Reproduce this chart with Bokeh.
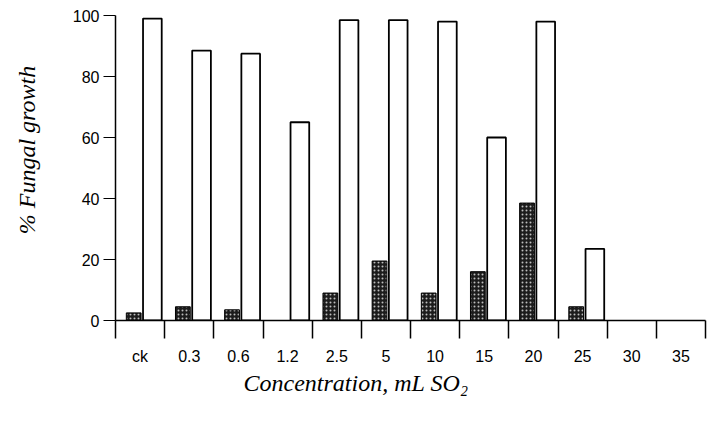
from bokeh.plotting import figure
from bokeh.models import FixedTicker, Range1d, Title
from bokeh.embed import file_html
from bokeh.resources import INLINE

# ---- data ----
categories = ["ck", "0.3", "0.6", "1.2", "2.5", "5", "10", "15", "20", "25", "30", "35"]
dark_values = [2.5, 4.5, 3.5, 0, 9, 19.5, 9, 16, 38.5, 4.5, 0, 0]
white_values = [99, 88.5, 87.5, 65, 98.5, 98.5, 98, 60, 98, 23.5, 0, 0]
y_ticks = [0, 20, 40, 60, 80, 100]

n = len(categories)
idx = list(range(n))

p = figure(width=720, height=430, output_backend="svg", toolbar_location=None,
           x_range=Range1d(0, n), y_range=Range1d(0, 100),
           min_border_left=115, min_border_right=15,
           min_border_top=15, min_border_bottom=110)
p.outline_line_color = None
p.xgrid.visible = False
p.ygrid.visible = False
p.background_fill_color = "white"
p.border_fill_color = "white"

# bars (position within each category slot)
dark_l, dark_r = 0.22, 0.52
white_l, white_r = 0.56, 0.94
dx = [i + (dark_l + dark_r) / 2 for i, v in zip(idx, dark_values) if v > 0]
dv = [v for v in dark_values if v > 0]
wx = [i + (white_l + white_r) / 2 for i, v in zip(idx, white_values) if v > 0]
wv = [v for v in white_values if v > 0]

p.vbar(x=wx, top=wv, bottom=0, width=white_r - white_l,
       fill_color="white", line_color="black", line_width=1.8)
p.vbar(x=dx, top=dv, bottom=0, width=dark_r - dark_l,
       fill_color="#1c1c1c", line_color="black", line_width=1,
       hatch_pattern="dot", hatch_color="#bdbdbd", hatch_scale=4, hatch_weight=1.2)

# x axis: labels at slot centres, ticks at slot boundaries
xa = p.xaxis[0]
centers = [i + 0.5 for i in idx]
xa.ticker = FixedTicker(ticks=centers, minor_ticks=[float(i) for i in range(n + 1)])
xa.major_label_overrides = {c: lab for c, lab in zip(centers, categories)}
xa.major_tick_out = 0
xa.major_tick_in = 0
xa.minor_tick_out = 18
xa.minor_tick_in = 0
xa.minor_tick_line_width = 1.5
xa.minor_tick_line_color = "black"
xa.axis_line_width = 1.5
xa.axis_line_color = "black"
xa.major_label_standoff = 9
xa.major_label_text_font = "Liberation Sans"
xa.major_label_text_font_size = "16px"
xa.major_label_text_color = "black"

# y axis
ya = p.yaxis[0]
ya.ticker = FixedTicker(ticks=y_ticks)
ya.major_tick_out = 12
ya.major_tick_in = 0
ya.minor_tick_line_color = None
ya.axis_line_width = 1.5
ya.axis_line_color = "black"
ya.major_tick_line_width = 1.2
ya.major_tick_line_color = "black"
ya.major_label_standoff = 4
ya.major_label_text_font = "Liberation Sans"
ya.major_label_text_font_size = "16px"
ya.major_label_text_color = "black"
# leading non-breaking spaces nudge the label upward, as in the reference
ya.axis_label = "\u00a0" * 6 + "% Fungal growth"
ya.axis_label_text_font = "Liberation Serif"
ya.axis_label_text_font_style = "italic"
ya.axis_label_text_font_size = "24px"
ya.axis_label_text_color = "black"
ya.axis_label_standoff = 30

# x axis title (left-shifted like the reference)
xt = Title(text="Concentration, mL SO\u2082", align="left", offset=128,
           text_font="Liberation Serif", text_font_style="italic",
           text_font_size="24px", text_color="black", standoff=0)
p.add_layout(xt, "below")

open("out.html", "w").write(file_html(p, INLINE))
